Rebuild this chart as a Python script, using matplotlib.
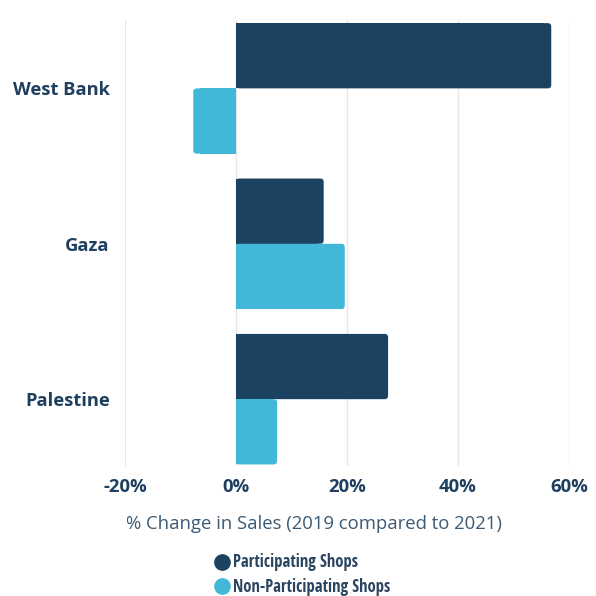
import matplotlib
matplotlib.use("Agg")
import matplotlib.pyplot as plt
from matplotlib.lines import Line2D
from matplotlib.patches import FancyBboxPatch, Rectangle
import numpy as np

categories = ["West Bank", "Gaza", "Palestine"]
participating = [56.8, 15.8, 27.4]
non_participating = [-7.7, 19.6, 7.4]
xticks = [-20, 0, 20, 40, 60]
xtick_labels = ["-20%", "0%", "20%", "40%", "60%"]
series_names = ["Participating Shops", "Non-Participating Shops"]

dark = "#1c4262"
light = "#42b8d8"
text_col = "#1e3f5f"

W = 596
fig = plt.figure(figsize=(5.96, 5.96), dpi=100)
ax = fig.add_axes([125/W, 1-466/W, (569-125)/W, (466-20)/W])

y = np.arange(len(categories))
h = 0.42
ax.set_xlim(-20, 60)
ax.set_ylim(2.43, -0.44)
b1 = ax.barh(y - h/2, participating, height=h, color=dark, zorder=3)
b2 = ax.barh(y + h/2, non_participating, height=h, color=light, zorder=3)

# rounded outer corners, square end at zero
xpp = 80 / (569 - 125)
ypp = 2.87 / (466 - 20)
r = 3.5 * xpp
for cont in (b1, b2):
    for p in cont.patches:
        x0, y0 = p.get_x(), p.get_y()
        w, hh = p.get_width(), p.get_height()
        col = p.get_facecolor()
        p.set_visible(False)
        left = min(x0, x0 + w)
        ax.add_patch(FancyBboxPatch((left, y0), abs(w), hh,
                                    boxstyle=f"round,pad=0,rounding_size={r}",
                                    mutation_aspect=ypp / xpp, facecolor=col,
                                    edgecolor="none", zorder=3))
        sgn = 1 if w >= 0 else -1
        ax.add_patch(Rectangle((x0, y0), w - sgn * 2 * r, hh, facecolor=col,
                               edgecolor="none", antialiased=False, zorder=3))

ax.set_xticks(xticks)
ax.set_xticklabels(xtick_labels, fontfamily="Open Sans", fontweight="bold",
                   fontsize=13.3, color=text_col)
ax.set_yticks(y)
ax.set_yticklabels(categories, fontfamily="Open Sans", fontweight="bold",
                   fontsize=13.2, color=text_col)
ax.tick_params(axis="both", length=0)
ax.tick_params(axis="y", pad=11)
ax.tick_params(axis="x", pad=9)
for s in ax.spines.values():
    s.set_visible(False)
ax.grid(axis="x", color="#e6e6e6", linewidth=1, zorder=0)
ax.set_axisbelow(True)

fig.text(314/W, 1-524/W, "% Change in Sales (2019 compared to 2021)",
         fontfamily="Open Sans", fontsize=13.3, color="#3c5a74",
         ha="center", va="center")

handles = [Line2D([], [], marker="o", linestyle="none", markersize=11,
                  markerfacecolor=c, markeredgecolor=c) for c in (dark, light)]
leg = fig.legend(handles, series_names, loc="upper left",
                 bbox_to_anchor=(204/W, 1-545/W), frameon=False,
                 prop={"family": "Open Sans Condensed", "weight": "bold", "size": 12},
                 handletextpad=0.15, labelspacing=0.38, borderpad=0, handlelength=1.1)
for t in leg.get_texts():
    t.set_color("#2a4560")

fig.savefig("out.png", dpi=100, facecolor="white")
